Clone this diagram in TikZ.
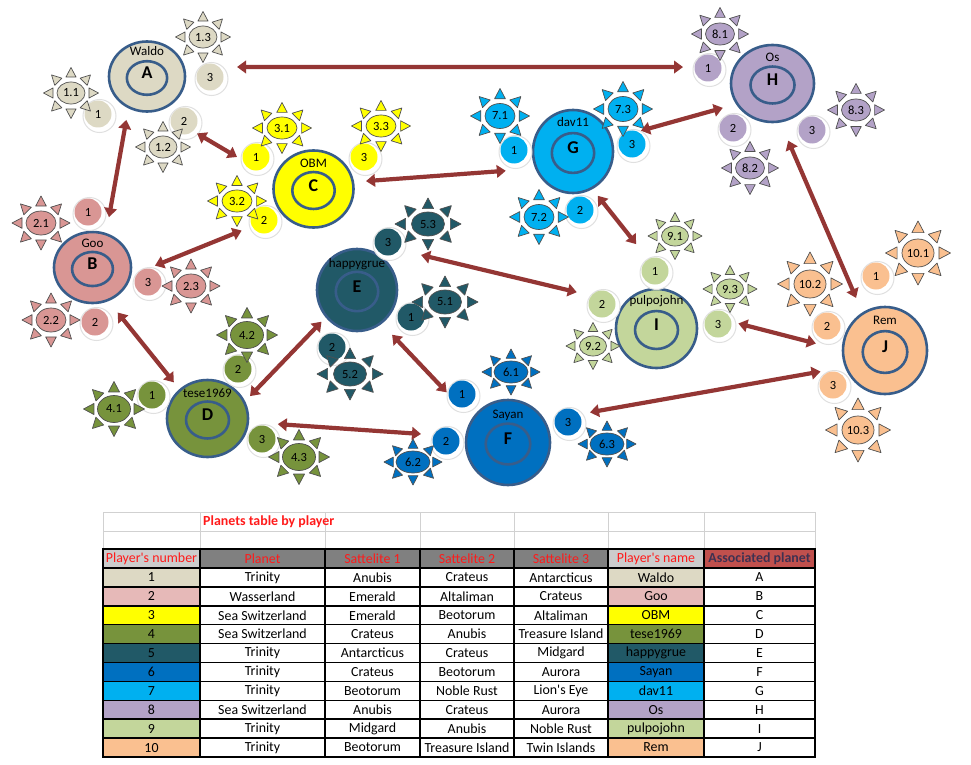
\documentclass[tikz,border=0pt]{standalone}
\usepackage{fontspec}
\setmainfont{Carlito}
\usetikzlibrary{shapes.geometric,arrows.meta}
\definecolor{cA}{HTML}{DDD9C4}
\definecolor{cB}{HTML}{D99694}
\definecolor{cBt}{HTML}{E6B9B8}
\definecolor{cC}{HTML}{FFFF00}
\definecolor{cD}{HTML}{77933C}
\definecolor{cE}{HTML}{215967}
\definecolor{cF}{HTML}{0070C0}
\definecolor{cG}{HTML}{00B0F0}
\definecolor{cH}{HTML}{B3A2C7}
\definecolor{cI}{HTML}{C3D69B}
\definecolor{cJ}{HTML}{FAC090}
\definecolor{pborder}{HTML}{385D8A}
\definecolor{arrowred}{HTML}{943634}
\definecolor{sunedge}{HTML}{505050}
\definecolor{hred}{HTML}{FF1A1A}
\definecolor{hlight}{HTML}{CCCCCC}
\definecolor{hdark}{HTML}{808080}
\definecolor{hassoc}{HTML}{C0504D}
\definecolor{hassoctext}{HTML}{3F3151}
\tikzset{
  planet/.style={ellipse, draw=pborder, line width=2.6pt, inner sep=0, outer sep=0},
  core/.style={ellipse, draw=pborder, line width=2.6pt, inner sep=0, outer sep=0},
  letter/.style={font=\fontsize{18}{20}\selectfont\bfseries, inner sep=0},
  pname/.style={font=\fontsize{13}{14}\selectfont, inner sep=0},
  sat/.style={circle, minimum size=27pt, inner sep=0, outer sep=0, font=\fontsize{12.5}{13}\selectfont},
  halo/.style={fill=white, draw=black!12, line width=1pt},
  sunline/.style={draw=sunedge, line width=0.7pt, line join=round},
  sunc/.style={ellipse, draw=sunedge, line width=0.7pt, inner sep=0, outer sep=0, font=\fontsize{12.5}{13}\selectfont},
  cell/.style={rectangle, draw=black, line width=1.5pt, inner sep=0, outer sep=0, minimum height=18.9pt, font=\fontsize{13.9}{15}\selectfont},
  arr/.style={draw=arrowred, line width=4.2pt, arrows={Triangle[length=9pt,width=12.5pt]-Triangle[length=9pt,width=12.5pt]}},
  gridline/.style={draw=black!18, line width=0.8pt}
}
% planet: name, x, y, colour, width, height, player, letter, y of player label
\newcommand\Planet[9]{%
  \pgfmathsetmacro\plIW{0.53*#5}%
  \pgfmathsetmacro\plIH{0.48*#6}%
  \node[planet, fill=#4, minimum width=#5pt, minimum height=#6pt] (#1) at (#2,#3) {};
  \node[core, minimum width=\plIW pt, minimum height=\plIH pt] (#1-core) at (#2,#3+1.5) {};
  \node[letter] (#1-letter) at (#2,#3-3.5) {#8};
  \node[pname] (#1-name) at (#2,#9) {#7};
}
% satellite: name, x, y, colour, number
\newcommand\Sat[5]{%
  \filldraw[halo] ([shift={(1.5,2)}]#2,#3) circle (16.5pt);
  \node[sat, fill=#4] (#1) at (#2,#3) {#5};
}
% sun: name, x, y, colour, label, tip x, tip y, ellipse width, ellipse height
\newcommand\Sun[9]{%
  \pgfmathsetmacro\sunT{(#6+#7)/2}%
  \pgfmathsetmacro\sunL{0.36*\sunT}%
  \pgfmathsetmacro\sunW{0.19*\sunT}%
  \foreach \ang in {0,45,...,315}{%
    \filldraw[sunline, fill=#4]
      ({#2+#6*cos(\ang)},{#3+#7*sin(\ang)})
      -- ({#2+(#6-\sunL)*cos(\ang)-\sunW*sin(\ang)},{#3+(#7-\sunL)*sin(\ang)+\sunW*cos(\ang)})
      -- ({#2+(#6-\sunL)*cos(\ang)+\sunW*sin(\ang)},{#3+(#7-\sunL)*sin(\ang)-\sunW*cos(\ang)})
      -- cycle;}
  \node[sunc, fill=#4, minimum width=#8pt, minimum height=#9pt] (#1) at (#2,#3) {#5};
}
\newcommand\apos{\textquotesingle}
\begin{document}
\begin{tikzpicture}[x=1pt,y=-1pt]
\fill[white] (0,0) rectangle (971,765);
\useasboundingbox (0,0) rectangle (971,765);

% planets
\Planet{A}{147}{76.5}{cA}{76}{70}{Waldo}{A}{51}
\Planet{B}{92.5}{267.5}{cB}{77}{71}{Goo}{B}{243}
\Planet{C}{313.5}{189}{cC}{80}{77}{OBM}{C}{163}
\Planet{D}{207.5}{418.5}{cD}{81}{77}{tese1969}{D}{393}
\Planet{E}{357}{290}{cE}{80}{82}{happygrue}{E}{264}
\Planet{F}{508}{442.5}{cF}{84}{85}{Sayan}{F}{415}
\Planet{G}{573}{151.5}{cG}{80}{83}{dav11}{G}{122.5}
\Planet{H}{772.5}{83.5}{cH}{83}{77}{Os}{H}{57}
\Planet{I}{656.5}{328.5}{cI}{81}{79}{pulpojohn}{I}{301}
\Planet{J}{885}{350.5}{cJ}{84}{87}{Rem}{J}{320}

% satellites
\Sat{A1}{98}{114}{cA}{1}   \Sat{A2}{184}{121}{cA}{2}  \Sat{A3}{210}{77}{cA}{3}
\Sat{B1}{88}{212}{cB}{1}   \Sat{B2}{95}{322}{cB}{2}   \Sat{B3}{148}{282}{cB}{3}
\Sat{C1}{256}{157}{cC}{1}  \Sat{C2}{264}{220}{cC}{2}  \Sat{C3}{364}{157}{cC}{3}
\Sat{D1}{152}{395}{cD}{1}  \Sat{D2}{238}{369}{cD}{2}  \Sat{D3}{262}{439}{cD}{3}
\Sat{E1}{411}{317}{cE}{1}  \Sat{E2}{332}{347}{cE}{2}  \Sat{E3}{388}{242}{cE}{3}
\Sat{F1}{462}{394}{cF}{1}  \Sat{F2}{446}{441}{cF}{2}  \Sat{F3}{568}{422}{cF}{3}
\Sat{G1}{514}{150}{cG}{1}  \Sat{G2}{580}{210}{cG}{2}  \Sat{G3}{632}{144}{cG}{3}
\Sat{H1}{708}{68}{cH}{1}   \Sat{H2}{733}{128}{cH}{2}  \Sat{H3}{812}{130}{cH}{3}
\Sat{I1}{655}{271}{cI}{1}  \Sat{I2}{602}{304}{cI}{2}  \Sat{I3}{718}{324}{cI}{3}
\Sat{J1}{876}{276}{cJ}{1}  \Sat{J2}{827}{326}{cJ}{2}  \Sat{J3}{833}{385}{cJ}{3}

% suns
\Sun{s11}{71}{93}{cA}{1.1}{27.5}{25.5}{28}{22}
\Sun{s12}{163}{147}{cA}{1.2}{27.5}{25.5}{28}{22}
\Sun{s13}{203}{37}{cA}{1.3}{27.5}{25.5}{28}{22}
\Sun{s21}{41}{223}{cB}{2.1}{29}{27}{30}{24}
\Sun{s22}{51}{320}{cB}{2.2}{29}{27}{30}{24}
\Sun{s23}{191}{286}{cB}{2.3}{29}{27}{30}{24}
\Sun{s31}{282}{128}{cC}{3.1}{29.5}{25.5}{30}{22}
\Sun{s32}{237}{201}{cC}{3.2}{29.5}{25.5}{30}{22}
\Sun{s33}{381}{126}{cC}{3.3}{29.5}{25.5}{30}{22}
\Sun{s41}{114}{409}{cD}{4.1}{30.5}{27.5}{33}{27}
\Sun{s42}{247}{335}{cD}{4.2}{30.5}{27.5}{33}{27}
\Sun{s43}{299}{457}{cD}{4.3}{30.5}{27.5}{33}{27}
\Sun{s51}{445}{302}{cE}{5.1}{33}{26}{33}{24}
\Sun{s52}{350}{374}{cE}{5.2}{33}{26}{33}{24}
\Sun{s53}{428}{224}{cE}{5.3}{33}{26}{33}{24}
\Sun{s61}{511}{372}{cF}{6.1}{29}{23}{34}{22}
\Sun{s62}{413}{462}{cF}{6.2}{29}{23}{34}{22}
\Sun{s63}{607}{444}{cF}{6.3}{29}{23}{34}{22}
\Sun{s71}{500}{116}{cG}{7.1}{29.5}{27.5}{30}{25}
\Sun{s72}{539}{217}{cG}{7.2}{29.5}{27.5}{30}{25}
\Sun{s73}{623}{109}{cG}{7.3}{29.5}{27.5}{30}{25}
\Sun{s81}{720}{34}{cH}{8.1}{28.5}{26.5}{29}{22}
\Sun{s82}{750}{168}{cH}{8.2}{28.5}{26.5}{29}{22}
\Sun{s83}{856}{110}{cH}{8.3}{28.5}{26.5}{29}{22}
\Sun{s91}{675}{236}{cI}{9.1}{27}{23.5}{27}{20}
\Sun{s92}{593}{346}{cI}{9.2}{27}{23.5}{27}{20}
\Sun{s93}{730}{289}{cI}{9.3}{27}{23.5}{27}{20}
\Sun{s101}{918}{253}{cJ}{10.1}{32.5}{32}{32}{28}
\Sun{s102}{810}{284}{cJ}{10.2}{32.5}{32}{32}{28}
\Sun{s103}{858}{430}{cJ}{10.3}{32.5}{32}{32}{28}

% connectors
\draw[arr, shorten <=18pt, shorten >=11.5pt] (A3.48) -- (H1.176);
\draw[arr, shorten <=13pt, shorten >=17.4pt] (A.239) -- (B.68);
\draw[arr, shorten <=4.7pt, shorten >=6.9pt] (A2.-48.5) -- (C1.195);
\draw[arr, shorten <=13.2pt, shorten >=30.8pt] (C.10) -- (G.205.5);
\draw[arr, shorten <=7.5pt, shorten >=11.25pt] (B3.90) -- (C2.208.6);
\draw[arr, shorten <=3.6pt, shorten >=15pt] (G3.66) -- (H.210.2);
\draw[arr, shorten <=9.7pt, shorten >=19.4pt] (G.-63.9) -- (I1.120.7);
\draw[arr, shorten <=21pt, shorten >=17pt] (H.-79.5) -- (J.121.5);
\draw[arr, shorten <=15.9pt, shorten >=10pt] (B.-65.4) -- (D.134.8);
\draw[arr, shorten <=8.4pt, shorten >=7.2pt] (D.24.2) -- (E.221.3);
\draw[arr, shorten <=22.6pt, shorten >=15pt] (E3.-35) -- (I2.142.5);
\draw[arr, shorten <=16.3pt, shorten >=2.6pt] (E.-54.9) -- (F1.181);
\draw[arr, shorten <=30pt, shorten >=13pt] (D.-5.3) -- (F2.153);
\draw[arr, shorten <=7.3pt, shorten >=28pt] (I3.10.7) -- (J.180);
\draw[arr, shorten <=11.1pt, shorten >=26pt] (F3.35.2) -- (J.203.5);

% table: light grid of the title rows
\draw[gridline] (103,512) -- (815,512) (103,531) -- (815,531);
\foreach \xx in {103,200,325,420,514,608,704,815} \draw[gridline] (\xx,512) -- (\xx,549);
\node[anchor=west, inner sep=0, font=\fontsize{13.9}{15}\selectfont\bfseries, text=hred] (title) at (203,522) {Planets table by player};

% header
\node[cell, minimum width=97pt, fill=hlight, text=hred] (h1) at (151.5,558.5) {Player\apos s number};
\node[cell, minimum width=125pt, fill=hdark, text=hred] (h2) at (262.5,558.5) {Planet};
\node[cell, minimum width=95pt, fill=hdark, text=hred] (h3) at (372.5,558.5) {Sattelite 1};
\node[cell, minimum width=94pt, fill=hdark, text=hred] (h4) at (467,558.5) {Sattelite 2};
\node[cell, minimum width=94pt, fill=hdark, text=hred] (h5) at (561,558.5) {Sattelite 3};
\node[cell, minimum width=96pt, fill=hlight, text=hred] (h6) at (656,558.5) {Player\apos s name};
\node[cell, minimum width=111pt, fill=hassoc, text=hassoctext, font=\fontsize{13.9}{15}\selectfont\bfseries] (h7) at (759.5,558.5) {Associated planet};

% data rows
\foreach \r/\cc/\p/\sa/\sb/\sc/\nm/\l in {
  1/cA/Trinity/Anubis/Crateus/Antarcticus/Waldo/A,
  2/cBt/Wasserland/Emerald/Altaliman/Crateus/Goo/B,
  3/cC/Sea Switzerland/Emerald/Beotorum/Altaliman/OBM/C,
  4/cD/Sea Switzerland/Crateus/Anubis/Treasure Island/tese1969/D,
  5/cE/Trinity/Antarcticus/Crateus/Midgard/happygrue/E,
  6/cF/Trinity/Crateus/Beotorum/Aurora/Sayan/F,
  7/cG/Trinity/Beotorum/Noble Rust/Lion\apos s Eye/dav11/G,
  8/cH/Sea Switzerland/Anubis/Crateus/Aurora/Os/H,
  9/cI/Trinity/Midgard/Anubis/Noble Rust/pulpojohn/I,
  10/cJ/Trinity/Beotorum/Treasure Island/Twin Islands/Rem/J}{
  \pgfmathsetmacro\ty{568+(\r-0.5)*18.9}
  \node[cell, minimum width=97pt, fill=\cc] (t\r-1) at (151.5,\ty) {\r};
  \node[cell, minimum width=125pt, fill=white] (t\r-2) at (262.5,\ty) {\p};
  \node[cell, minimum width=95pt, fill=white] (t\r-3) at (372.5,\ty) {\sa};
  \node[cell, minimum width=94pt, fill=white] (t\r-4) at (467,\ty) {\sb};
  \node[cell, minimum width=94pt, fill=white] (t\r-5) at (561,\ty) {\sc};
  \node[cell, minimum width=96pt, fill=\cc] (t\r-6) at (656,\ty) {\nm};
  \node[cell, minimum width=111pt, fill=white] (t\r-7) at (759.5,\ty) {\l};
}
\end{tikzpicture}
\end{document}
